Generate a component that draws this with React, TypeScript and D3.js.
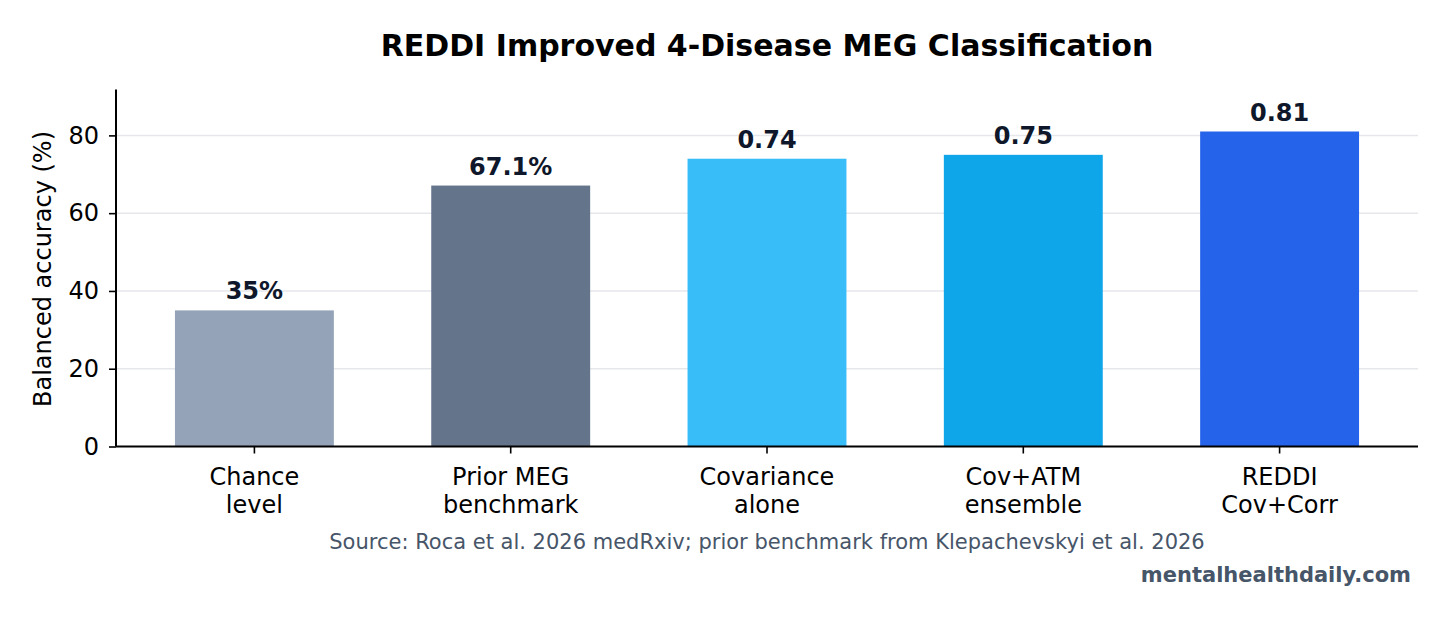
import React, { useRef, useEffect } from "react";
import * as d3 from "d3";

const categories = ["Chance\nlevel", "Prior MEG\nbenchmark", "Covariance\nalone", "Cov+ATM\nensemble", "REDDI\nCov+Corr"];
const values = [35, 67.1, 74, 75, 81];
const valueLabels = ["35%", "67.1%", "0.74", "0.75", "0.81"];
const barColors = ["#94a3b8", "#64748b", "#38bdf8", "#0ea5e9", "#2563eb"];
const yTicks = [0, 20, 40, 60, 80];

const FONT = "DejaVu Sans, sans-serif";

const App = () => {
  const svgRef = useRef<SVGSVGElement>(null);

  useEffect(() => {
    const svg = d3.select(svgRef.current);
    svg.selectAll("*").remove();

    const width = 1450;
    const height = 617;
    const margin = { top: 89.5, right: 32, bottom: 170.5, left: 116 };
    const x0 = margin.left;
    const x1 = width - margin.right;
    const y0 = height - margin.bottom;

    // bars sit at integer positions with matplotlib-like side margins
    const xScale = d3
      .scaleLinear()
      .domain([-0.54, categories.length - 1 + 0.54])
      .range([x0, x1]);
    const barW = (xScale(1) - xScale(0)) * 0.62;

    const yScale = d3.scaleLinear().domain([0, 91.8]).range([y0, margin.top]);

    // title
    svg
      .append("text")
      .attr("x", (x0 + x1) / 2)
      .attr("y", 56)
      .attr("text-anchor", "middle")
      .attr("font-family", FONT)
      .attr("font-weight", "bold")
      .attr("font-size", 30)
      .attr("fill", "#000")
      .text("REDDI Improved 4-Disease MEG Classification");

    // horizontal grid
    const grid = svg.append("g");
    yTicks.filter((t) => t > 0).forEach((t) => {
      grid
        .append("line")
        .attr("x1", x0)
        .attr("x2", x1)
        .attr("y1", yScale(t))
        .attr("y2", yScale(t))
        .attr("stroke", "#e5e7eb")
        .attr("stroke-width", 1.5);
    });

    // bars
    svg
      .selectAll("rect.bar")
      .data(values)
      .enter()
      .append("rect")
      .attr("class", "bar")
      .attr("x", (_d, i) => xScale(i) - barW / 2)
      .attr("y", (d) => yScale(d))
      .attr("width", barW)
      .attr("height", (d) => y0 - yScale(d))
      .attr("fill", (_d, i) => barColors[i]);

    // value labels
    svg
      .selectAll("text.val")
      .data(values)
      .enter()
      .append("text")
      .attr("class", "val")
      .attr("x", (_d, i) => xScale(i))
      .attr("y", (d) => yScale(d) - 11)
      .attr("text-anchor", "middle")
      .attr("font-family", FONT)
      .attr("font-weight", "bold")
      .attr("font-size", 24)
      .attr("fill", "#0f172a")
      .text((_d, i) => valueLabels[i]);

    // y axis
    const yAxis = svg
      .append("g")
      .attr("transform", `translate(${x0},0)`)
      .call(d3.axisLeft(yScale).tickValues(yTicks).tickSize(7).tickPadding(10));
    yAxis.select(".domain").attr("stroke", "#000").attr("stroke-width", 2).attr("d", `M0,${margin.top}V${y0}`);
    yAxis.selectAll(".tick line").attr("stroke", "#000").attr("stroke-width", 1.6);
    yAxis
      .selectAll("text")
      .attr("font-family", FONT)
      .attr("font-size", 24)
      .attr("fill", "#000");

    // x axis
    const xAxis = svg.append("g").attr("transform", `translate(0,${y0})`);
    xAxis
      .append("line")
      .attr("x1", x0)
      .attr("x2", x1)
      .attr("stroke", "#000")
      .attr("stroke-width", 2);
    categories.forEach((c, i) => {
      xAxis
        .append("line")
        .attr("x1", xScale(i))
        .attr("x2", xScale(i))
        .attr("y1", 0)
        .attr("y2", 7)
        .attr("stroke", "#000")
        .attr("stroke-width", 1.6);
      const t = xAxis
        .append("text")
        .attr("text-anchor", "middle")
        .attr("font-family", FONT)
        .attr("font-size", 24)
        .attr("fill", "#000");
      c.split("\n").forEach((line, j) => {
        t.append("tspan").attr("x", xScale(i)).attr("y", 38 + j * 28).text(line);
      });
    });

    // y axis title
    svg
      .append("text")
      .attr("transform", `translate(51,${(margin.top + y0) / 2 + 1}) rotate(-90)`)
      .attr("text-anchor", "middle")
      .attr("font-family", FONT)
      .attr("font-size", 24)
      .attr("fill", "#000")
      .text("Balanced accuracy (%)");

    // source note
    svg
      .append("text")
      .attr("x", (x0 + x1) / 2)
      .attr("y", 549)
      .attr("text-anchor", "middle")
      .attr("font-family", FONT)
      .attr("font-size", 21)
      .attr("fill", "#475569")
      .text("Source: Roca et al. 2026 medRxiv; prior benchmark from Klepachevskyi et al. 2026");

    // watermark
    svg
      .append("text")
      .attr("x", 1411)
      .attr("y", 582)
      .attr("text-anchor", "end")
      .attr("font-family", FONT)
      .attr("font-weight", "bold")
      .attr("font-size", 21)
      .attr("fill", "#475569")
      .text("mentalhealthdaily.com");
  }, []);

  return (
    <svg
      ref={svgRef}
      width={1450}
      height={617}
      style={{ position: "absolute", left: 0, top: 0, background: "#fff" }}
    ></svg>
  );
};

export default App;
